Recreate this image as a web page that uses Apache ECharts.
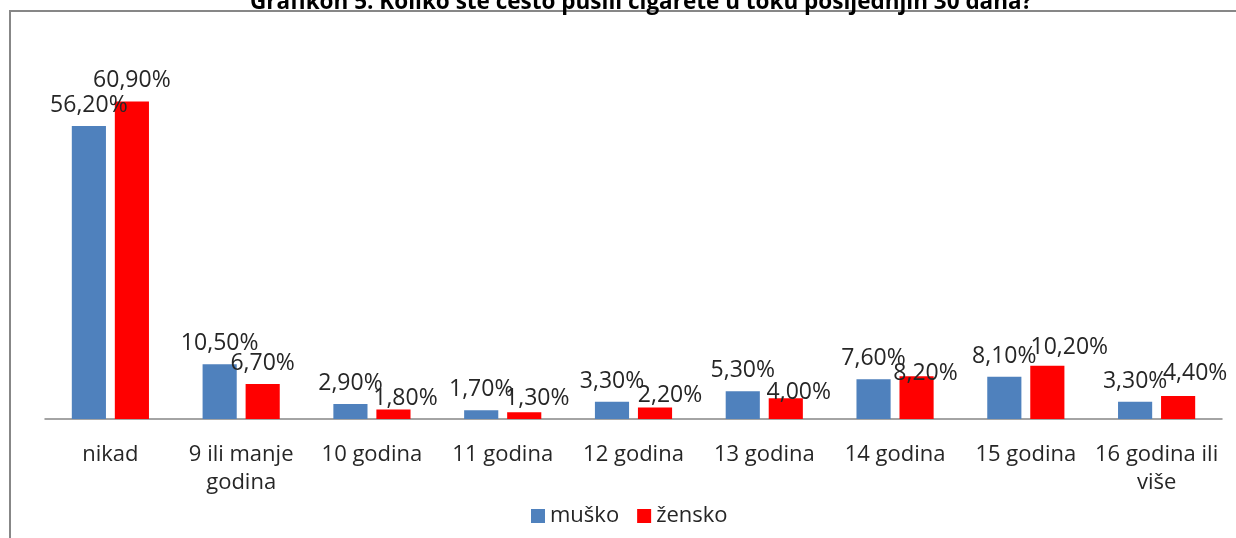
<!DOCTYPE html>
<html>
<head>
<meta charset="utf-8">
<script src="https://cdn.jsdelivr.net/npm/echarts@6/dist/echarts.min.js"></script>
<style>
  html, body { margin: 0; padding: 0; background: #fff; }
  #chart { width: 1236px; height: 538px; }
</style>
</head>
<body>
<div id="chart"></div>
<script>
// podaci
var categories = ['nikad', '9 ili manje\ngodina', '10 godina', '11 godina', '12 godina',
                  '13 godina', '14 godina', '15 godina', '16 godina ili\nviše'];
var musko = [56.2, 10.5, 2.9, 1.7, 3.3, 5.3, 7.6, 8.1, 3.3];
var zensko = [60.9, 6.7, 1.8, 1.3, 2.2, 4.0, 8.2, 10.2, 4.4];
var seriesNames = ['muško', 'žensko'];
var titleText = 'Grafikon 5. Koliko ste često pušili cigarete u toku posljednjih 30 dana?';

// labele za žensko su u originalu ručno pomaknute
var zenskoLabelShift = [[0, 0], [0, 0], [12, 9], [13, 7], [15, 8], [13, 15], [9, 18], [22, 2], [17, -2]];

var font = 'Open Sans';

function fmt(p) {
  return p.value.toFixed(2).replace('.', ',') + '%';
}

var myChart = echarts.init(document.getElementById('chart'));

var labelStyle = {
  show: true,
  position: 'top',
  distance: 9,
  formatter: fmt,
  fontFamily: font,
  fontSize: 23,
  color: '#262626'
};

myChart.setOption({
  backgroundColor: '#fff',
  animation: false,
  textStyle: { fontFamily: font },
  title: {
    text: titleText,
    left: 245,
    top: -14,
    textStyle: { fontFamily: font, fontSize: 22.5, fontWeight: 'bold', color: '#000' }
  },
  graphic: [{
    type: 'rect',
    shape: { x: 10, y: 11, width: 1260, height: 560 },
    style: { fill: 'none', stroke: '#878787', lineWidth: 2 },
    silent: true
  }],
  legend: {
    data: seriesNames,
    left: 526,
    top: 500,
    itemWidth: 14,
    itemHeight: 14,
    itemGap: 18,
    icon: 'rect',
    textStyle: { fontFamily: font, fontSize: 22, color: '#262626' }
  },
  grid: {
    left: 45,
    right: 14,
    top: 54,
    bottom: 119
  },
  xAxis: {
    type: 'category',
    data: categories,
    axisLine: { lineStyle: { color: '#878787', width: 1.5 } },
    axisTick: { show: false },
    axisLabel: {
      fontFamily: font,
      fontSize: 22,
      color: '#262626',
      margin: 22,
      lineHeight: 28,
      interval: 0
    }
  },
  yAxis: {
    type: 'value',
    min: 0,
    max: 70,
    show: false,
    splitLine: { show: false }
  },
  series: [{
    name: seriesNames[0],
    type: 'bar',
    data: musko,
    color: '#4F81BD',
    barGap: '26%',
    barCategoryGap: '41%',
    label: labelStyle
  }, {
    name: seriesNames[1],
    type: 'bar',
    data: zensko.map(function (v, i) {
      return { value: v, label: { offset: zenskoLabelShift[i] } };
    }),
    color: '#FF0000',
    barGap: '26%',
    barCategoryGap: '41%',
    label: labelStyle
  }]
});
</script>
</body>
</html>
